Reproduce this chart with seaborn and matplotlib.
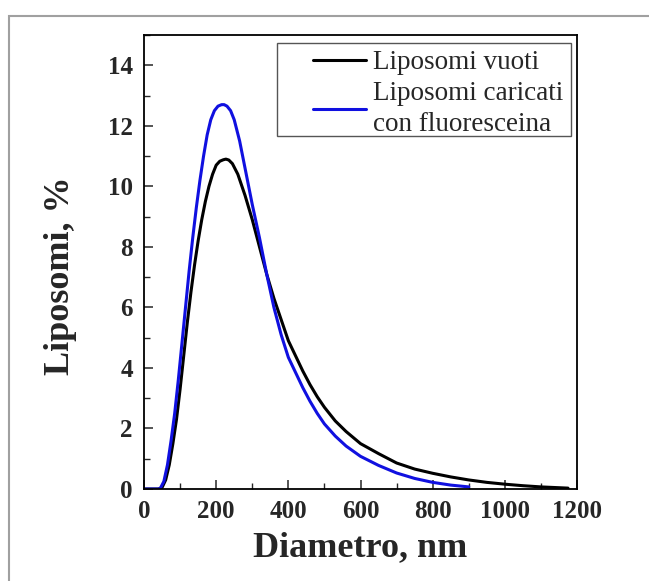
import numpy as np
import pandas as pd
import matplotlib
matplotlib.use('Agg')
import matplotlib.pyplot as plt
from matplotlib.patches import Rectangle
from matplotlib.ticker import MultipleLocator
import seaborn as sns

# diameter distributions
label_vuoti = 'Liposomi vuoti'
diam_vuoti = [0, 40, 50, 60, 70, 80, 90, 100, 110, 120, 130, 140, 150, 160,
              170, 180, 190, 200, 210, 220, 227, 235, 245, 260, 280, 300,
              320, 340, 360, 380, 400, 420, 440, 460, 480, 500, 530, 560,
              600, 650, 700, 750, 800, 850, 900, 950, 1000, 1050, 1100, 1175]
perc_vuoti = [0, 0, 0.05, 0.3, 0.8, 1.5, 2.3, 3.3, 4.4, 5.5, 6.5, 7.4, 8.2,
              8.9, 9.5, 10.0, 10.4, 10.7, 10.83, 10.88, 10.9, 10.87, 10.75,
              10.4, 9.7, 8.9, 8.0, 7.1, 6.3, 5.6, 4.9, 4.4, 3.9, 3.45, 3.05,
              2.7, 2.25, 1.9, 1.5, 1.17, 0.86, 0.66, 0.52, 0.4, 0.3, 0.22,
              0.16, 0.11, 0.07, 0.03]

label_caricati = 'Liposomi caricati\ncon fluoresceina'
diam_caricati = [0, 40, 45, 55, 65, 75, 85, 95, 105, 115, 125, 135, 145, 155,
                 165, 175, 185, 195, 205, 215, 222, 230, 240, 250, 265, 280,
                 300, 320, 340, 360, 380, 400, 420, 440, 460, 480, 500, 530,
                 560, 600, 650, 700, 750, 800, 850, 900]
perc_caricati = [0, 0, 0.02, 0.25, 0.8, 1.6, 2.5, 3.6, 4.8, 6.0, 7.2, 8.3,
                 9.3, 10.2, 11.0, 11.7, 12.2, 12.5, 12.65, 12.7, 12.7, 12.65,
                 12.5, 12.2, 11.5, 10.6, 9.4, 8.3, 7.1, 6.0, 5.1, 4.35, 3.85,
                 3.35, 2.9, 2.5, 2.15, 1.75, 1.42, 1.08, 0.78, 0.53, 0.35,
                 0.22, 0.13, 0.07]

x_ticks = [0, 200, 400, 600, 800, 1000, 1200]
y_ticks = [0, 2, 4, 6, 8, 10, 12, 14]


def build_frame():
    '''Long form table with both samples.'''
    a = pd.DataFrame({'diam': diam_vuoti, 'perc': perc_vuoti,
                      'campione': label_vuoti})
    b = pd.DataFrame({'diam': diam_caricati, 'perc': perc_caricati,
                      'campione': label_caricati})
    return pd.concat([a, b], ignore_index=True)


def main():
    sns.set_style('ticks')
    plt.rcParams['font.family'] = ['Liberation Serif', 'DejaVu Serif']

    df = build_frame()
    fig = plt.figure(figsize=(6.49, 5.81), dpi=100)
    ax = fig.add_axes([0.2219, 0.1583, 0.6672, 0.7814])

    sns.lineplot(data=df, x='diam', y='perc', hue='campione',
                 palette={label_vuoti: 'black', label_caricati: '#1010e0'},
                 linewidth=2.2, ax=ax, sort=False)

    ax.set_xlim(0, 1200)
    ax.set_ylim(0, 15)
    ax.set_xticks(x_ticks)
    ax.set_yticks(y_ticks)
    ax.xaxis.set_minor_locator(MultipleLocator(100))
    ax.yaxis.set_minor_locator(MultipleLocator(1))
    ax.tick_params(which='major', direction='in', length=6.5, width=1.1,
                   labelsize=18, pad=8, top=False, right=False)
    ax.tick_params(which='minor', direction='in', length=4, width=1.0,
                   top=False, right=False)
    for lab in ax.get_xticklabels() + ax.get_yticklabels():
        lab.set_fontweight('bold')
    for sp in ax.spines.values():
        sp.set_linewidth(1.3)
        sp.set_color('black')

    ax.set_xlabel('Diametro, nm', fontsize=26, fontweight='bold', labelpad=6)
    ax.set_ylabel('Liposomi, %', fontsize=26, fontweight='bold')
    ax.yaxis.set_label_coords(-0.155, 0.47)

    # legend box is wider on the left than matplotlib pads it, so the frame
    # is drawn separately
    handles, labels = ax.get_legend_handles_labels()
    leg = ax.legend(handles, labels, loc='upper left',
                    bbox_to_anchor=(0.39, 0.966), fontsize=19.5,
                    frameon=False, handlelength=1.95, handletextpad=0.28,
                    labelspacing=0.22, borderpad=0, borderaxespad=0)
    for t in leg.get_texts():
        t.set_linespacing(1.3)
    ax.add_patch(Rectangle((0.307, 0.778), 0.679, 0.205,
                           transform=ax.transAxes, fill=False,
                           edgecolor='#555555', linewidth=1.0, zorder=5))

    # grey outer frame of the original figure
    fig.patches.append(Rectangle((9 / 649, -0.1), 1.2, 0.1 + 565 / 581,
                                 transform=fig.transFigure, fill=False,
                                 edgecolor='#a0a0a0', linewidth=1.5))

    fig.savefig('out.png', dpi=100)


if __name__ == '__main__':
    main()
